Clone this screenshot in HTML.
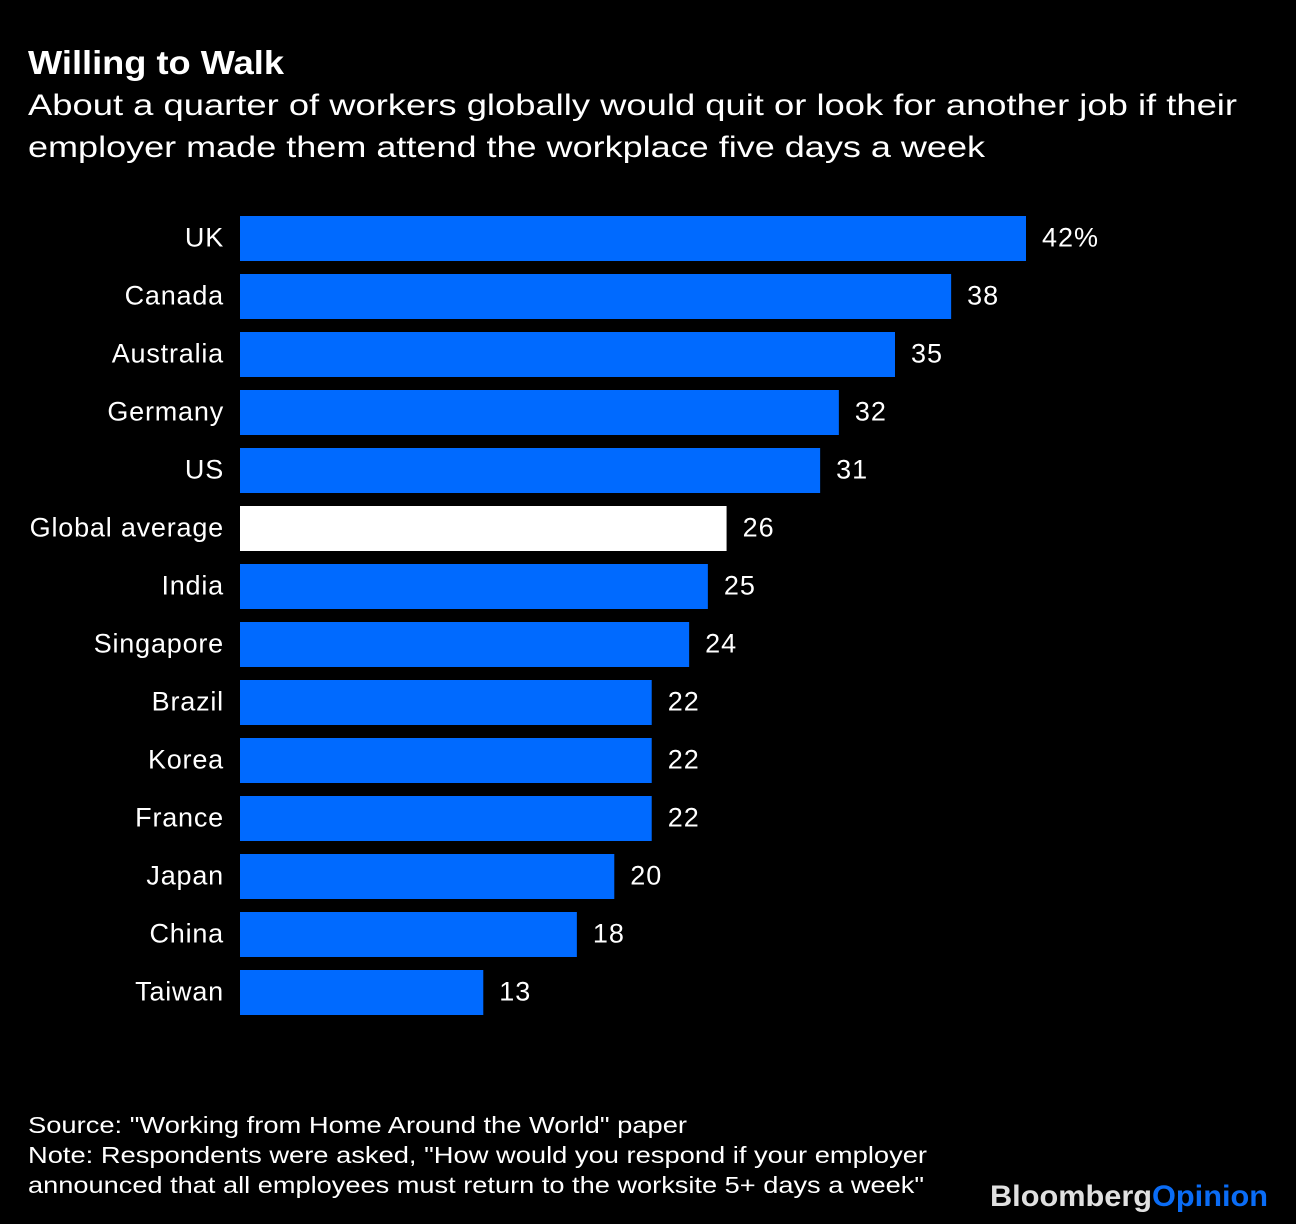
<!DOCTYPE html>
<html><head><meta charset="utf-8"><style>
html,body{margin:0;padding:0;background:#000;}
svg{display:block;font-family:"Liberation Sans",Arial,sans-serif;}
</style></head><body>
<svg id="chart" width="1296" height="1224" viewBox="0 0 1296 1224">
<rect width="1296" height="1224" fill="#000"/>
<text x="28" y="74" font-size="33" font-weight="bold" fill="#fff" textLength="256" lengthAdjust="spacingAndGlyphs">Willing to Walk</text>
<text x="28" y="115" font-size="30" fill="#fff" textLength="1209" lengthAdjust="spacingAndGlyphs">About a quarter of workers globally would quit or look for another job if their</text>
<text x="28" y="157" font-size="30" fill="#fff" textLength="957" lengthAdjust="spacingAndGlyphs">employer made them attend the workplace five days a week</text>
<g id="bars"></g>
<text x="28" y="1133" font-size="23" fill="#fff" textLength="659" lengthAdjust="spacingAndGlyphs">Source: "Working from Home Around the World" paper</text>
<text x="28" y="1163" font-size="23" fill="#fff" textLength="899" lengthAdjust="spacingAndGlyphs">Note: Respondents were asked, "How would you respond if your employer</text>
<text x="28" y="1193" font-size="23" fill="#fff" textLength="896" lengthAdjust="spacingAndGlyphs">announced that all employees must return to the worksite 5+ days a week"</text>
<text x="990" y="1206" font-size="30" font-weight="bold" textLength="278" lengthAdjust="spacingAndGlyphs"><tspan fill="#e0e0e0">Bloomberg</tspan><tspan fill="#0a6cf5">Opinion</tspan></text>
</svg>
<script>
const categories = ["UK","Canada","Australia","Germany","US","Global average","India","Singapore","Brazil","Korea","France","Japan","China","Taiwan"];
const values = [42,38,35,32,31,26,25,24,22,22,22,20,18,13];
const valueLabels = ["42%","38","35","32","31","26","25","24","22","22","22","20","18","13"];
const highlight = ["Global average"];

const x0 = 240, xScale = (1026 - 240) / 42;
const xPos = v => x0 + v * xScale;
const rowTop = i => 216 + i * 58;
const barH = 45;
const ns = "http://www.w3.org/2000/svg";
const g = document.getElementById("bars");
categories.forEach((c, i) => {
  const y = rowTop(i);
  const r = document.createElementNS(ns, "rect");
  r.setAttribute("x", x0);
  r.setAttribute("y", y);
  r.setAttribute("width", xPos(values[i]) - x0);
  r.setAttribute("height", barH);
  r.setAttribute("fill", highlight.includes(c) ? "#ffffff" : "#006aff");
  
  
  g.appendChild(r);
  const t = document.createElementNS(ns, "text");
  t.setAttribute("x", 224);
  t.setAttribute("y", y + barH / 2 + 8);
  t.setAttribute("text-anchor", "end");
  t.setAttribute("font-size", "27");
  t.setAttribute("letter-spacing", "0.8");
  t.setAttribute("fill", "#fff");
  t.textContent = c;
  
  
  g.appendChild(t);
  const v = document.createElementNS(ns, "text");
  v.setAttribute("x", xPos(values[i]) + 16);
  v.setAttribute("y", y + barH / 2 + 8);
  v.setAttribute("font-size", "27");
  v.setAttribute("letter-spacing", "1");
  v.setAttribute("fill", "#fff");
  v.textContent = valueLabels[i];
  
  
  g.appendChild(v);
});
</script>
</body></html>
